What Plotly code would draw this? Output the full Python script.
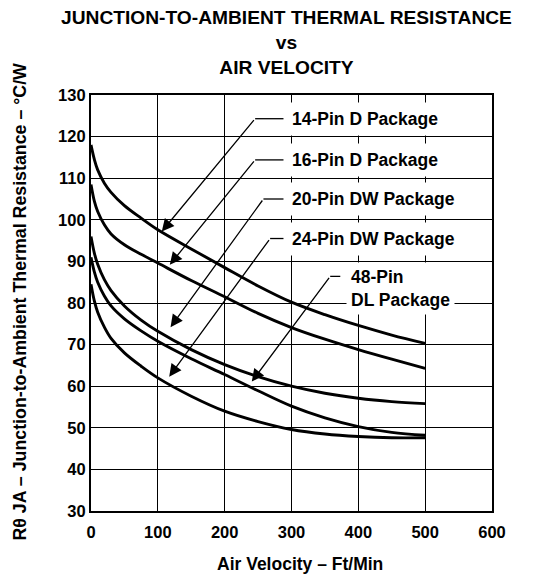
import plotly.graph_objects as go

# ---- data ----
velocity = [0, 5, 10, 20, 30, 50, 75, 100, 150, 200, 250, 300, 350, 400, 450, 500]
r_14pin = [118.0, 114.5, 112.0, 108.8, 106.6, 103.4, 100.4, 97.6, 93.0, 88.5, 84.1, 80.2, 77.2, 74.6, 72.3, 70.3]
r_16pin = [108.5, 104.5, 102.0, 98.8, 96.6, 94.0, 91.7, 89.6, 85.4, 81.5, 77.5, 74.1, 71.3, 68.8, 66.5, 64.3]
r_48pin = [96.0, 92.0, 89.3, 85.6, 83.0, 79.3, 75.9, 73.2, 68.8, 65.2, 62.3, 60.0, 58.3, 57.1, 56.3, 55.8]
r_20pin = [91.0, 87.5, 85.0, 81.7, 79.3, 76.2, 73.3, 70.8, 66.6, 62.8, 58.9, 55.2, 52.4, 50.3, 48.9, 48.2]
r_24pin = [84.5, 80.5, 77.8, 74.2, 71.5, 68.0, 64.8, 62.0, 57.6, 54.0, 51.5, 49.6, 48.5, 47.9, 47.6, 47.6]

x_ticks = [0, 100, 200, 300, 400, 500, 600]
y_ticks = [30, 40, 50, 60, 70, 80, 90, 100, 110, 120, 130]

# callout labels
label_text = ["14-Pin D Package", "16-Pin D Package", "20-Pin DW Package",
              "24-Pin DW Package", "48-Pin<br>DL Package"]
label_x = [290.5, 290.5, 290.5, 290.5, 381.0]
label_y = [124.3, 114.4, 105.0, 95.5, 83.6]
corner_x = [245.6, 245.6, 258.0, 268.0, 357.9]
corner_y = [124.3, 114.4, 105.0, 95.5, 86.4]
leader_end_x = [288.0, 288.0, 288.0, 288.0, 373.0]
tip_x = [105.9, 117.9, 119.0, 117.0, 240.6]
tip_y = [97.2, 89.2, 74.2, 62.3, 61.1]

FONT = "Liberation Sans, Arial, Helvetica, sans-serif"

fig = go.Figure()
series = [r_14pin, r_16pin, r_48pin, r_20pin, r_24pin]
names = ["14-Pin D Package", "16-Pin D Package", "48-Pin DL Package",
         "20-Pin DW Package", "24-Pin DW Package"]
for nm, ys in zip(names, series):
    fig.add_trace(go.Scatter(x=velocity, y=ys, mode="lines", name=nm,
                             line=dict(color="black", width=2.9, shape="spline", smoothing=1.0),
                             showlegend=False, hoverinfo="x+y+name"))

annotations = []
shapes = []
for i in range(len(label_text)):
    shapes.append(dict(type="line", xref="x", yref="y",
                       x0=corner_x[i], y0=corner_y[i], x1=leader_end_x[i], y1=corner_y[i],
                       line=dict(color="black", width=1.3)))
    annotations.append(dict(x=tip_x[i], y=tip_y[i], xref="x", yref="y",
                            ax=corner_x[i], ay=corner_y[i], axref="x", ayref="y",
                            text="", showarrow=True, arrowhead=2, arrowsize=1.9,
                            arrowwidth=1.3, arrowcolor="black", standoff=0))
    annotations.append(dict(x=label_x[i], y=label_y[i], xref="x", yref="y",
                            text=label_text[i], showarrow=False, xanchor="left",
                            yanchor="middle", align="left", bgcolor="white",
                            borderpad=6 if i < 4 else 4,
                            font=dict(family=FONT, size=17.5, color="black", weight="bold")))

# title
annotations.append(dict(x=0.488, y=1.126, xref="paper", yref="paper",
                        text="JUNCTION-TO-AMBIENT THERMAL RESISTANCE<br>vs<br>AIR VELOCITY",
                        showarrow=False, xanchor="center", yanchor="middle", align="center",
                        font=dict(family=FONT, size=19.2, color="black", weight="bold")))
# axis titles
annotations.append(dict(x=0.5216, y=-0.128, xref="paper", yref="paper",
                        text="Air Velocity – Ft/Min", showarrow=False,
                        xanchor="center", yanchor="middle",
                        font=dict(family=FONT, size=17.5, color="black", weight="bold")))
annotations.append(dict(x=-0.177, y=0.5035, xref="paper", yref="paper",
                        text="Rθ JA – Junction-to-Ambient Thermal Resistance – °C/W",
                        showarrow=False, textangle=-90, xanchor="center", yanchor="middle",
                        font=dict(family=FONT, size=17.8, color="black", weight="bold")))

axis_common = dict(showgrid=True, gridcolor="black", gridwidth=1.1, showline=True,
                   linecolor="black", linewidth=2.2, mirror=True, zeroline=False,
                   ticks="", tickfont=dict(family=FONT, size=16.5, color="black", weight="bold"))

fig.update_layout(
    width=539, height=575,
    margin=dict(l=91, r=47, t=95, b=64),
    paper_bgcolor="white", plot_bgcolor="white",
    xaxis=dict(range=[0, 600], tickvals=x_ticks, ticklabelstandoff=5, **axis_common),
    yaxis=dict(range=[30, 130], tickvals=y_ticks, **axis_common),
    annotations=annotations, shapes=shapes, showlegend=False,
)

fig.write_html("out.html")
